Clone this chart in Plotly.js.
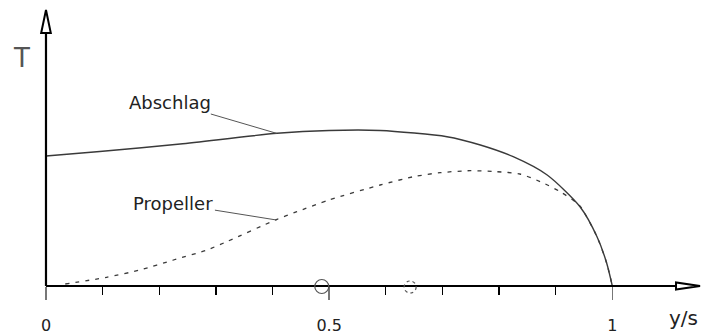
<!DOCTYPE html>
<html>
<head>
<meta charset="utf-8">
<script src="https://cdn.plot.ly/plotly-3.0.1.min.js"></script>
<style>html,body{margin:0;padding:0;background:#fff;}#chart{width:704px;height:334px;}</style>
</head>
<body>
<div id="chart"></div>
<script>
// Spanwise position y/s
const xAbschlag = [0, 0.095, 0.237, 0.408, 0.5, 0.59, 0.708, 0.767, 0.825, 0.885, 0.943, 0.973, 0.99, 1.0];
const tAbschlag = [1.30, 1.345, 1.42, 1.527, 1.555, 1.555, 1.493, 1.41, 1.293, 1.11, 0.793, 0.493, 0.23, 0];

const xPropeller = [0.034, 0.107, 0.166, 0.225, 0.284, 0.319, 0.408, 0.443, 0.5, 0.59, 0.649, 0.696, 0.749, 0.796, 0.837, 0.873, 0.908, 0.938, 0.946, 0.973, 0.99, 1.0];
const tPropeller = [0.02, 0.087, 0.16, 0.26, 0.36, 0.443, 0.667, 0.743, 0.86, 1.01, 1.093, 1.133, 1.153, 1.143, 1.12, 1.043, 0.943, 0.827, 0.777, 0.493, 0.23, 0];

const majorTicks = [0, 0.5, 1];
const majorLabels = ["0", "0.5", "1"];
const minorTicks = [0.1, 0.2, 0.3, 0.4, 0.6, 0.7, 0.8, 0.9];
const circleMarks = [0.487, 0.643];

const xRange = [-0.0812, 1.1619];
const yRange = [-0.48, 2.86];
const axisEndX = 1.1125, arrowTipX = 1.1549;
const axisEndY = 2.53, arrowTipY = 2.76;

const traces = [
  {x: xAbschlag, y: tAbschlag, mode: 'lines', line: {color: '#3a3a3a', width: 1.4, shape: 'spline', smoothing: 0.7}, hoverinfo: 'skip'},
  {x: xPropeller, y: tPropeller, mode: 'lines', line: {color: '#3a3a3a', width: 1.3, dash: '4px,6px', shape: 'spline', smoothing: 0.7}, hoverinfo: 'skip'},
  {x: [0], y: [0], xaxis: 'x2', mode: 'markers', marker: {opacity: 0}, hoverinfo: 'skip'}
];

const shapes = [
  {type: 'line', xref: 'x', yref: 'y', x0: 0, x1: axisEndX, y0: 0, y1: 0, line: {color: '#000', width: 2.2}},
  {type: 'line', xref: 'x', yref: 'y', x0: 0, x1: 0, y0: 0, y1: axisEndY, line: {color: '#000', width: 2.2}},
  {type: 'path', xref: 'x', yref: 'y', path: `M ${axisEndX} -0.036 L ${arrowTipX} 0 L ${axisEndX} 0.036 Z`, fillcolor: '#fff', line: {color: '#000', width: 2}},
  {type: 'path', xref: 'x', yref: 'y', path: `M -0.0085 ${axisEndY} L 0 ${arrowTipY} L 0.0085 ${axisEndY} Z`, fillcolor: '#fff', line: {color: '#000', width: 2}},
  {type: 'circle', xref: 'x', yref: 'y', xsizemode: 'pixel', ysizemode: 'pixel', xanchor: circleMarks[0], yanchor: 0, x0: -7, x1: 7, y0: -7.5, y1: 6.5, line: {color: '#555', width: 1.2}},
  {type: 'circle', xref: 'x', yref: 'y', xsizemode: 'pixel', ysizemode: 'pixel', xanchor: circleMarks[1], yanchor: 0, x0: -6, x1: 6, y0: -7, y1: 5, line: {color: '#555', width: 1.2, dash: '3px,3px'}}
];

const annotations = [
  {x: 0.407, y: 1.527, xref: 'x', yref: 'y', ax: 0.219, ay: 1.84, axref: 'x', ayref: 'y', text: 'Abschlag', showarrow: true, arrowhead: 0, arrowwidth: 1, arrowcolor: '#555', font: {family: 'DejaVu Sans', size: 18, color: '#222'}},
  {x: 0.407, y: 0.66, xref: 'x', yref: 'y', ax: 0.225, ay: 0.825, axref: 'x', ayref: 'y', text: 'Propeller', showarrow: true, arrowhead: 0, arrowwidth: 1, arrowcolor: '#555', font: {family: 'DejaVu Sans', size: 18, color: '#222'}},
  {x: -0.044, y: 2.28, xref: 'x', yref: 'y', text: 'T', showarrow: false, font: {family: 'DejaVu Sans', size: 26, color: '#555'}},
  {x: 1.126, y: -0.32, xref: 'x', yref: 'y', text: 'y/s', showarrow: false, font: {family: 'DejaVu Sans', size: 20, color: '#222'}}
];

const pos = -yRange[0] / (yRange[1] - yRange[0]);

const layout = {
  width: 704, height: 334,
  margin: {l: 0, r: 0, t: 0, b: 0},
  paper_bgcolor: '#fff', plot_bgcolor: '#fff',
  showlegend: false,
  xaxis: {range: xRange, anchor: 'free', position: pos, showgrid: false, zeroline: false, showline: false,
          tickmode: 'array', tickvals: majorTicks, ticktext: majorLabels, ticks: 'outside', ticklen: 13, tickwidth: 1.5, tickcolor: '#777',
          ticklabelstandoff: 12, tickfont: {family: 'DejaVu Sans', size: 16, color: '#222'}},
  xaxis2: {overlaying: 'x', matches: 'x', anchor: 'free', position: pos, showgrid: false, zeroline: false, showline: false,
           tickmode: 'array', tickvals: minorTicks, ticks: 'outside', ticklen: 8, tickwidth: 1.3, tickcolor: '#000', showticklabels: false},
  yaxis: {range: yRange, visible: false, showgrid: false, zeroline: false},
  shapes: shapes,
  annotations: annotations
};

Plotly.newPlot('chart', traces, layout, {staticPlot: true, displayModeBar: false});
</script>
</body>
</html>
